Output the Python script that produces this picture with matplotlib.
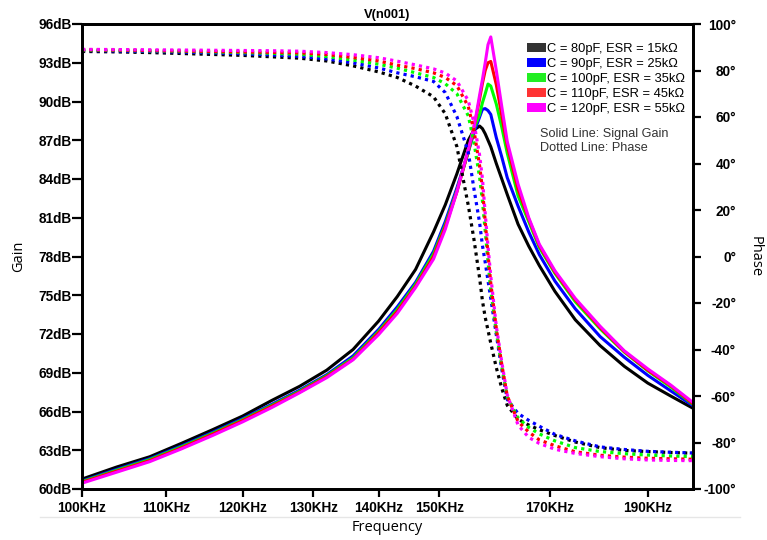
import matplotlib
matplotlib.use("Agg")
import matplotlib.pyplot as plt
from matplotlib.patches import Patch
from matplotlib.lines import Line2D

# frequency points (kHz)
freq_khz = [100, 104, 108, 112, 116, 120, 124, 128, 132, 136, 140, 143, 146, 149, 151, 153,
            155, 156, 157, 157.5, 158, 158.5, 159, 160, 161, 162, 164, 166, 168, 171, 175,
            180, 185, 190, 195, 200]

# gain (dB)
gain_80p = [60.77, 61.7, 62.5, 63.55, 64.6, 65.65, 66.85, 67.95, 69.2, 70.8, 73.0, 74.9, 77.0, 79.9, 82.0, 84.4,
            87.0, 87.8, 88.1, 87.9, 87.5, 87.0, 86.5, 85.2, 84.0, 82.8, 80.5, 78.8, 77.3, 75.3, 73.1,
            71.1, 69.5, 68.2, 67.2, 66.25]
gain_90p = [60.62, 61.52, 62.35, 63.35, 64.4, 65.45, 66.55, 67.65, 68.85, 70.3, 72.35, 74.1, 76.0, 78.4, 80.7, 83.3,
            86.1, 87.6, 88.8, 89.4, 89.45, 89.3, 89.0, 87.2, 85.7, 84.1, 81.9, 79.9, 78.15, 76.1, 73.95,
            71.8, 70.2, 68.8, 67.6, 66.45]
gain_100p = [60.57, 61.45, 62.28, 63.28, 64.32, 65.37, 66.47, 67.57, 68.77, 70.15, 72.2, 73.9, 75.85, 78.2, 80.45, 83.1,
             86.1, 87.9, 89.0, 89.9, 90.6, 91.35, 91.2, 89.8, 88.0, 86.0, 82.7, 80.7, 78.7, 76.7, 74.5,
             72.4, 70.6, 69.15, 67.9, 66.55]
gain_110p = [60.52, 61.38, 62.2, 63.2, 64.25, 65.3, 66.4, 67.5, 68.7, 70.05, 72.1, 73.75, 75.7, 78.0, 80.3, 83.0,
             86.2, 88.0, 90.2, 91.4, 92.4, 93.0, 93.1, 91.3, 88.9, 86.6, 83.2, 80.9, 78.85, 76.8, 74.65,
             72.5, 70.65, 69.2, 68.0, 66.6]
gain_120p = [60.45, 61.3, 62.12, 63.12, 64.15, 65.2, 66.3, 67.45, 68.62, 70.0, 71.95, 73.6, 75.6, 77.8, 80.1, 83.0,
             86.3, 88.0, 90.5, 91.7, 93.0, 94.4, 95.0, 92.4, 89.6, 86.9, 83.6, 81.0, 78.95, 76.9, 74.75,
             72.6, 70.7, 69.3, 68.05, 66.7]

# phase (deg)
phase_80p = [88.2, 88.0, 87.7, 87.3, 86.9, 86.5, 85.9, 85.3, 84.1, 82.0, 79.4, 77.0, 73.3, 68.7, 61.4, 47.3,
             21.9, 7.3, -9.3, -19.0, -26.2, -31.7, -37.3, -47.8, -56.7, -64.0, -70.0, -72.5, -74.5, -77.0, -79.8,
             -82.2, -83.4, -83.9, -84.3, -84.6]
phase_90p = [88.6, 88.4, 88.2, 87.9, 87.6, 87.2, 86.7, 86.1, 85.0, 83.3, 81.1, 79.0, 77.3, 75.3, 70.5, 60.2,
             44.7, 29.0, 14.5, 4.8, -2.5, -10.4, -18.0, -33.7, -48.5, -61.5, -67.5, -70.5, -73.0, -76.5, -79.3,
             -81.9, -83.0, -83.8, -84.2, -84.5]
phase_100p = [88.8, 88.7, 88.5, 88.3, 88.0, 87.7, 87.4, 87.0, 86.0, 84.5, 82.7, 81.0, 79.0, 77.0, 74.3, 70.0,
              60.5, 49.0, 34.0, 24.0, 11.0, -2.0, -14.5, -32.5, -47.5, -60.5, -69.5, -73.5, -76.3, -79.3, -82.2,
              -83.9, -84.8, -85.4, -85.8, -86.1]
phase_110p = [88.9, 88.8, 88.6, 88.4, 88.2, 88.0, 87.8, 87.6, 86.9, 85.6, 84.1, 82.3, 80.8, 79.0, 77.0, 73.5,
              64.5, 54.0, 39.0, 29.0, 15.0, 1.0, -11.5, -31.0, -46.5, -60.0, -71.0, -75.5, -78.9, -81.4, -84.0,
              -85.5, -86.3, -86.8, -87.0, -87.2]
phase_120p = [89.1, 89.0, 88.9, 88.8, 88.7, 88.6, 88.5, 88.3, 87.7, 86.8, 85.5, 84.0, 82.4, 80.7, 78.9, 75.5,
              67.0, 57.5, 43.5, 33.5, 18.5, 4.3, -8.5, -30.0, -45.5, -59.5, -72.5, -77.8, -80.4, -82.9, -84.7,
              -86.1, -87.0, -87.5, -87.7, -87.8]

labels = ["C = 80pF, ESR = 15k\u03a9", "C = 90pF, ESR = 25k\u03a9", "C = 100pF, ESR = 35k\u03a9",
          "C = 110pF, ESR = 45k\u03a9", "C = 120pF, ESR = 55k\u03a9"]
colors = ["#000000", "#0000ff", "#00ff00", "#ff0000", "#ff00ff"]
patch_colors = ["#333333", "#0000ff", "#22ee22", "#ff3333", "#ff00ff"]
gains = [gain_80p, gain_90p, gain_100p, gain_110p, gain_120p]
phases = [phase_80p, phase_90p, phase_100p, phase_110p, phase_120p]

xticks = [100, 110, 120, 130, 140, 150, 170, 190]
gain_ticks = list(range(60, 97, 3))
phase_ticks = list(range(-100, 101, 20))

tick_font = dict(family="Liberation Sans", weight="bold", size=9.8)

fig = plt.figure(figsize=(7.67, 5.4), dpi=100)
ax = fig.add_axes([82/767, 1-489/540, (693-82)/767, (489-24)/540])
ax2 = ax.twinx()

for g, c in zip(gains, colors):
    ax.plot(freq_khz, g, color=c, lw=2.2, solid_joinstyle="round")
for p, c in zip(phases, colors):
    ax2.plot(freq_khz, p, color=c, lw=2.3, linestyle=(0, (1, 1.3)), dash_capstyle="butt")

ax.set_xscale("log")
ax.set_xlim(100, 200)
ax.set_ylim(60, 96)
ax2.set_ylim(-100, 100)
ax.xaxis.set_minor_locator(matplotlib.ticker.NullLocator())
ax.set_xticks(xticks)
ax.set_xticklabels([f"{v}KHz" for v in xticks], fontdict=tick_font)
ax.set_yticks(gain_ticks)
ax.set_yticklabels([f"{v}dB" for v in gain_ticks], fontdict=tick_font)
ax2.set_yticks(phase_ticks)
ax2.set_yticklabels([f"{v}\u00b0" for v in phase_ticks], fontdict=tick_font, ha="right")

for a in (ax, ax2):
    for s in a.spines.values():
        s.set_linewidth(2.0)
ax.tick_params(axis="x", length=6, width=1.6, pad=2.5)
ax.tick_params(axis="y", length=7, width=1.6, pad=0.3)
ax2.tick_params(axis="y", length=6, width=1.6, pad=25)

ax.set_xlabel("Frequency", family="Open Sans", fontsize=10.5, labelpad=4)
ax.set_ylabel("Gain", family="Open Sans", fontsize=10.5, labelpad=9)
ax2.set_ylabel("Phase", family="Open Sans", fontsize=10.5, rotation=270, labelpad=19)
ax.set_title("V(n001)", family="Liberation Sans", weight="bold", fontsize=9.3, pad=4.5)

handles = [Patch(facecolor=c, edgecolor="none") for c in patch_colors]
ax2.legend(handles, labels, loc="upper left", bbox_to_anchor=((527-82)/611, 1-(43-24)/465),
           frameon=False, prop=dict(family="Liberation Sans", size=9.3),
           handlelength=1.45, handleheight=0.7, handletextpad=0.12, labelspacing=0.22,
           borderpad=0, borderaxespad=0)
ax2.text((540-82)/611, 1-(141-24)/465, "Solid Line: Signal Gain\nDotted Line: Phase",
         transform=ax2.transAxes, family="Liberation Sans", fontsize=9.1, color="#333333",
         va="center", ha="left", linespacing=1.2)

fig.add_artist(Line2D([40/767, 740/767], [1-517/540, 1-517/540], color="#e6e6e6", lw=1))

fig.savefig("out.png", dpi=100)
